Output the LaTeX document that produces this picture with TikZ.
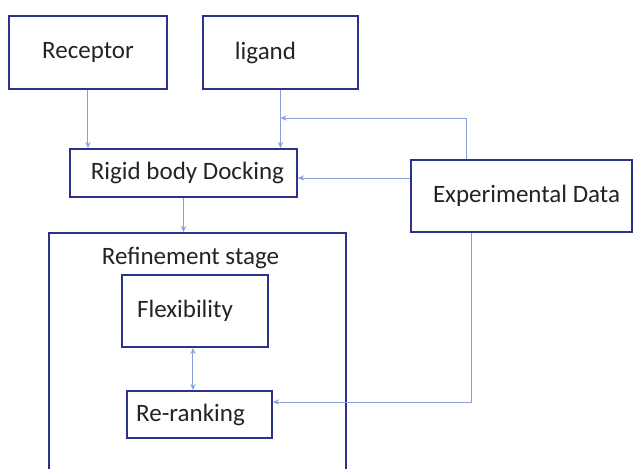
\documentclass[tikz,border=0pt]{standalone}
\usepackage{fontspec}
\setmainfont{Carlito}
\usepackage{tikz}
\usetikzlibrary{arrows.meta,positioning,calc}
\definecolor{boxblue}{RGB}{44,50,138}
\definecolor{lineblue}{RGB}{138,158,218}
\definecolor{txtgray}{RGB}{35,35,40}
\begin{document}
\begin{tikzpicture}[
    x=0.5pt, y=-0.5pt,
    box/.style={draw=boxblue, line width=1pt, fill=white, align=center, inner sep=0pt, text=txtgray, font=\fontsize{12.5}{15}\selectfont},
    arr/.style={-{Stealth[length=3pt,width=2.6pt]}, draw=lineblue, line width=0.5pt},
    darr/.style={{Stealth[length=3pt,width=2.6pt]}-{Stealth[length=3pt,width=2.6pt]}, draw=lineblue, line width=0.5pt},
    lbl/.style={text=txtgray, font=\fontsize{12.5}{15}\selectfont, inner sep=0pt}
]
\clip (0,0) rectangle (634,468);
\fill[white] (0,0) rectangle (634,468);
\node[box, minimum width=79pt, minimum height=36.5pt] (R) at (88,52.5) {Receptor};
\node[box, minimum width=77.5pt, minimum height=36.5pt] (L) at (280.5,52.5) {\hspace*{-15pt}ligand};
\node[box, minimum width=113.5pt, minimum height=24pt] (D) at (183.5,173) {\hspace*{4pt}Rigid body Docking};
\node[box, minimum width=110.5pt, minimum height=36pt] (E) at (521.5,196) {\hspace*{5pt}Experimental Data};
\node[box, minimum width=148.5pt, minimum height=128.5pt] (S) at (197.5,361.5) {};
\node[lbl] (St) at (190.5,258) {Refinement stage};
\node[box, minimum width=73pt, minimum height=36pt] (F) at (195,311) {\hspace*{-10pt}Flexibility};
\node[box, minimum width=72.5pt, minimum height=23.5pt] (K) at (199.5,414.5) {\hspace*{-9pt}Re-ranking};
\coordinate (fb) at (280.5,118);

\draw[arr] (R.south) -- (R.south |- D.north);
\draw[arr] (L.south) -- (L.south |- D.north);
\draw[arr] ([xshift=-27.25pt]E.north) |- (fb);
\draw[arr] ([yshift=9pt]E.west) -- ([yshift=9pt]E.west -| D.east);
\draw[arr] (D.south) -- (D.south |- S.north);
\draw[darr] ([xshift=-1pt]F.south) -- ([xshift=-1pt]F.south |- K.north);
\draw[arr] ([xshift=-24.75pt]E.south) |- ([yshift=6.25pt]K.east);
\end{tikzpicture}
\end{document}
